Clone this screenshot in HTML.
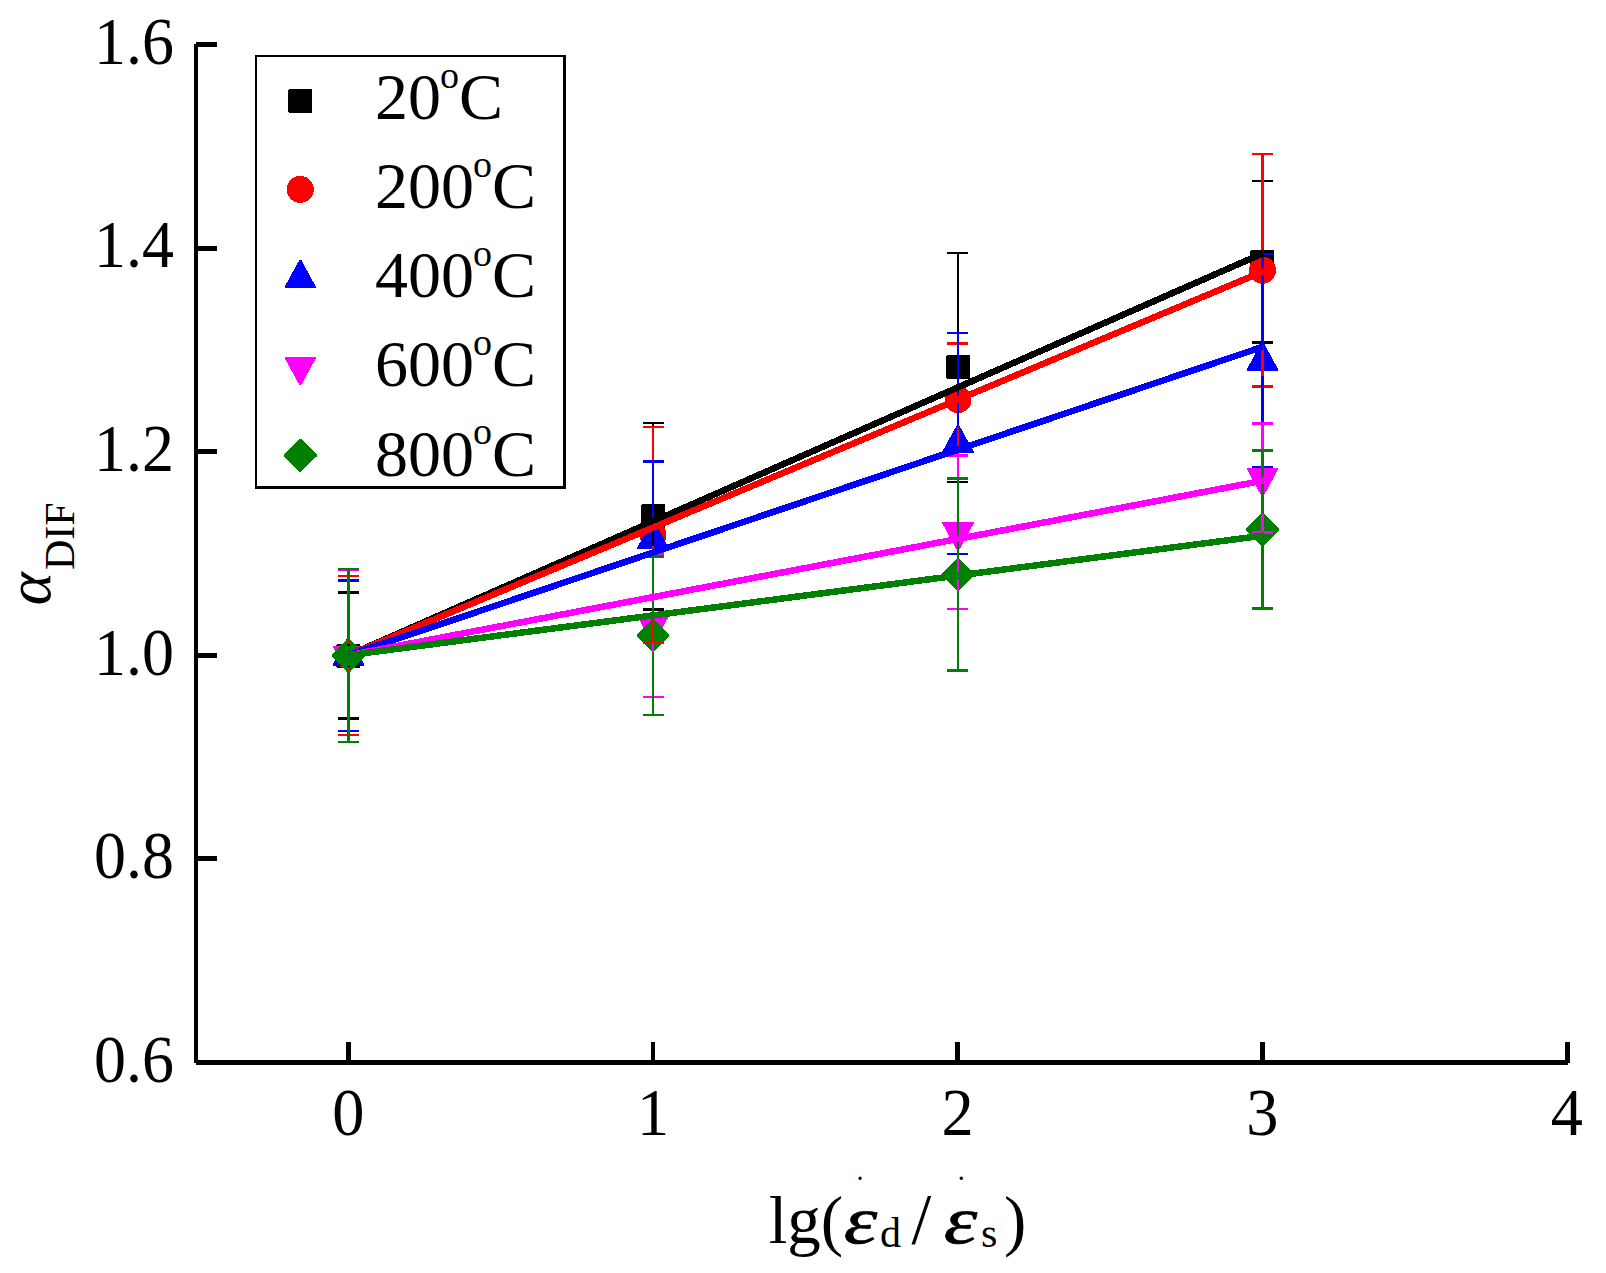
<!DOCTYPE html>
<html lang="en"><head><meta charset="utf-8"><title>DIF vs strain rate</title>
<style>html,body{margin:0;padding:0;background:#fff;overflow:hidden}svg{display:block}text{font-family:"Liberation Serif","DejaVu Serif",serif;fill:#000}.t{font-size:67px}.l{font-size:66px}.s{font-size:42px}.sup{font-size:38px}</style></head><body>
<svg width="1606" height="1273" viewBox="0 0 1606 1273">
<rect width="1606" height="1273" fill="#ffffff"/>
<g shape-rendering="crispEdges">
<g id="symbols">
<polygon points="337,644 359,644 360,645 360,667 359,668 337,668 336,667 336,645" fill="#000000"/>
<polygon points="642,504 664,504 665,505 665,527 664,528 642,528 641,527 641,505" fill="#000000"/>
<polygon points="947,355 969,355 970,356 970,378 969,379 947,379 946,378 946,356" fill="#000000"/>
<polygon points="1251,250 1273,250 1274,251 1274,273 1273,274 1251,274 1250,273 1250,251" fill="#000000"/>
<circle cx="348.5" cy="655.7" r="13.5" fill="#ff0000"/>
<circle cx="653" cy="534.7" r="13.5" fill="#ff0000"/>
<circle cx="958" cy="399.7" r="13.5" fill="#ff0000"/>
<circle cx="1262.5" cy="270.25" r="13.5" fill="#ff0000"/>
<polygon points="347.5,637.7 349.5,637.7 364.3,664.7 364.3,665.9 332.7,665.9 332.7,664.7" fill="#0000ff"/>
<polygon points="652,520.7 654,520.7 668.8,547.7 668.8,548.9 637.2,548.9 637.2,547.7" fill="#0000ff"/>
<polygon points="957,424.8 959,424.8 973.8,451.8 973.8,453 942.2,453 942.2,451.8" fill="#0000ff"/>
<polygon points="1261.5,342.5 1263.5,342.5 1278.3,369.5 1278.3,370.7 1246.7,370.7 1246.7,369.5" fill="#0000ff"/>
<polygon points="332.7,645.5 364.3,645.5 364.3,646.7 349.5,673.7 347.5,673.7 332.7,646.7" fill="#ff00ff"/>
<polygon points="637.2,615 668.8,615 668.8,616.2 654,643.2 652,643.2 637.2,616.2" fill="#ff00ff"/>
<polygon points="942.2,522.05 973.8,522.05 973.8,523.25 959,550.25 957,550.25 942.2,523.25" fill="#ff00ff"/>
<polygon points="1246.7,467.8 1278.3,467.8 1278.3,469 1263.5,496 1261.5,496 1246.7,469" fill="#ff00ff"/>
<polygon points="347.5,639.5 349.5,639.5 364.7,654.7 364.7,656.7 349.5,671.9 347.5,671.9 332.3,656.7 332.3,654.7" fill="#008000"/>
<polygon points="652,619.55 654,619.55 669.2,634.75 669.2,636.75 654,651.95 652,651.95 636.8,636.75 636.8,634.75" fill="#008000"/>
<polygon points="957,558.3 959,558.3 974.2,573.5 974.2,575.5 959,590.7 957,590.7 941.8,575.5 941.8,573.5" fill="#008000"/>
<polygon points="1261.5,513.3 1263.5,513.3 1278.7,528.5 1278.7,530.5 1263.5,545.7 1261.5,545.7 1246.3,530.5 1246.3,528.5" fill="#008000"/>
</g>
<g id="errorbars">
<g fill="#000000"><rect x="347" y="592.5" width="3" height="53.2"/><rect x="347" y="665.7" width="3" height="52.8"/><rect x="338" y="591.25" width="21" height="2.5"/><rect x="338" y="717.25" width="21" height="2.5"/><rect x="652" y="423" width="2" height="83"/><rect x="652" y="526" width="2" height="83.5"/><rect x="643" y="421.75" width="21" height="2.5"/><rect x="643" y="608.25" width="21" height="2.5"/><rect x="957" y="253" width="2" height="104"/><rect x="957" y="377" width="2" height="105"/><rect x="947" y="251.75" width="21" height="2.5"/><rect x="947" y="480.75" width="21" height="2.5"/><rect x="1261" y="181" width="3" height="71"/><rect x="1261" y="272" width="3" height="70.5"/><rect x="1252" y="179.75" width="21" height="2.5"/><rect x="1252" y="341.25" width="21" height="2.5"/></g>
<g fill="#ff0000"><rect x="347" y="576" width="3" height="68"/><rect x="347" y="667.4" width="3" height="67.6"/><rect x="338" y="574.75" width="21" height="2.5"/><rect x="338" y="733.75" width="21" height="2.5"/><rect x="652" y="427" width="2" height="96"/><rect x="652" y="546.4" width="2" height="96.1"/><rect x="643" y="425.75" width="21" height="2.5"/><rect x="643" y="641.25" width="21" height="2.5"/><rect x="957" y="343.5" width="2" height="44.5"/><rect x="957" y="411.4" width="2" height="44.5"/><rect x="947" y="342.25" width="21" height="2.5"/><rect x="947" y="454.65" width="21" height="2.5"/><rect x="1261" y="154" width="3" height="104.55"/><rect x="1261" y="281.95" width="3" height="104.55"/><rect x="1252" y="152.75" width="21" height="2.5"/><rect x="1252" y="385.25" width="21" height="2.5"/></g>
<g fill="#0000ff"><rect x="347" y="580.5" width="3" height="59.35"/><rect x="347" y="671.55" width="3" height="59.45"/><rect x="338" y="579.25" width="21" height="2.5"/><rect x="338" y="729.75" width="21" height="2.5"/><rect x="652" y="461.5" width="2" height="61.35"/><rect x="652" y="554.55" width="2" height="61.45"/><rect x="643" y="460.25" width="21" height="2.5"/><rect x="643" y="614.75" width="21" height="2.5"/><rect x="957" y="333" width="2" height="93.95"/><rect x="957" y="458.65" width="2" height="95.35"/><rect x="947" y="331.75" width="21" height="2.5"/><rect x="947" y="552.75" width="21" height="2.5"/><rect x="1261" y="254" width="3" height="90.65"/><rect x="1261" y="376.35" width="3" height="90.65"/><rect x="1252" y="252.75" width="21" height="2.5"/><rect x="1252" y="465.75" width="21" height="2.5"/></g>
<g fill="#ff00ff"><rect x="347" y="570.2" width="3" height="69.65"/><rect x="347" y="673.2" width="3" height="68.8"/><rect x="338" y="568.95" width="21" height="2.5"/><rect x="338" y="740.75" width="21" height="2.5"/><rect x="652" y="553.5" width="2" height="55.85"/><rect x="652" y="642.7" width="2" height="54.3"/><rect x="643" y="552.25" width="21" height="2.5"/><rect x="643" y="695.75" width="21" height="2.5"/><rect x="957" y="455.5" width="2" height="60.9"/><rect x="957" y="549.75" width="2" height="59.25"/><rect x="947" y="454.25" width="21" height="2.5"/><rect x="947" y="607.75" width="21" height="2.5"/><rect x="1261" y="423.5" width="3" height="38.65"/><rect x="1261" y="495.5" width="3" height="37"/><rect x="1252" y="422.25" width="21" height="2.5"/><rect x="1252" y="531.25" width="21" height="2.5"/></g>
<g fill="#008000"><rect x="347" y="569" width="3" height="70.7"/><rect x="347" y="671.7" width="3" height="70.3"/><rect x="338" y="567.75" width="21" height="2.5"/><rect x="338" y="740.75" width="21" height="2.5"/><rect x="652" y="556.5" width="2" height="63.25"/><rect x="652" y="651.75" width="2" height="63.25"/><rect x="643" y="555.25" width="21" height="2.5"/><rect x="643" y="713.75" width="21" height="2.5"/><rect x="957" y="478.5" width="2" height="80"/><rect x="957" y="590.5" width="2" height="80"/><rect x="947" y="477.25" width="21" height="2.5"/><rect x="947" y="669.25" width="21" height="2.5"/><rect x="1261" y="450.5" width="3" height="63"/><rect x="1261" y="545.5" width="3" height="63"/><rect x="1252" y="449.25" width="21" height="2.5"/><rect x="1252" y="607.25" width="21" height="2.5"/></g>
</g>
<clipPath id="lc"><rect x="340" y="200" width="923.6" height="480"/></clipPath>
<g id="fits" stroke-width="6.5" fill="none" clip-path="url(#lc)">
<line x1="348.7" y1="655.2" x2="1268.5" y2="250.85" stroke="#000000"/>
<line x1="348.7" y1="655.2" x2="1268.5" y2="269.29" stroke="#ff0000"/>
<line x1="348.7" y1="655.2" x2="1268.5" y2="344.87" stroke="#0000ff"/>
<line x1="348.7" y1="655.2" x2="1268.5" y2="479.63" stroke="#ff00ff"/>
<line x1="348.7" y1="655.2" x2="1268.5" y2="534.94" stroke="#008000"/>
</g>
<g id="axes" fill="#000">
<rect x="194" y="44" width="4" height="1019"/>
<rect x="196" y="1060" width="1372" height="5"/>
<rect x="196" y="42" width="21" height="5"/>
<rect x="196" y="246" width="21" height="5"/>
<rect x="196" y="449" width="21" height="5"/>
<rect x="196" y="653" width="21" height="5"/>
<rect x="196" y="856" width="21" height="5"/>
<rect x="196" y="1060" width="21" height="5"/>
<rect x="346" y="1042" width="5" height="19"/>
<rect x="651" y="1042" width="4" height="19"/>
<rect x="955" y="1042" width="5" height="19"/>
<rect x="1260" y="1042" width="5" height="19"/>
<rect x="1565" y="1042" width="5" height="21"/>
</g>
<g fill="#000"><rect x="255" y="55" width="2" height="434"/><rect x="255" y="55" width="311" height="2"/><rect x="563" y="55" width="3" height="434"/><rect x="255" y="486" width="311" height="3"/></g>
<polygon points="289,89 311,89 312,90 312,112 311,113 289,113 288,112 288,90" fill="#000000"/>
<circle cx="300.3" cy="189.4" r="13.5" fill="#ff0000"/>
<polygon points="299.3,260.1 301.3,260.1 316.1,287.1 316.1,288.3 284.5,288.3 284.5,287.1" fill="#0000ff"/>
<polygon points="284.5,356.6 316.1,356.6 316.1,357.8 301.3,384.8 299.3,384.8 284.5,357.8" fill="#ff00ff"/>
<polygon points="299.3,439.3 301.3,439.3 316.5,454.5 316.5,456.5 301.3,471.7 299.3,471.7 284.1,456.5 284.1,454.5" fill="#008000"/>
</g>
<g id="ticklabels" class="t">
<text transform="translate(174 63.6) scale(0.955 1)" text-anchor="end">1.6</text>
<text transform="translate(174 266.8) scale(0.955 1)" text-anchor="end">1.4</text>
<text transform="translate(174 470.8) scale(0.955 1)" text-anchor="end">1.2</text>
<text transform="translate(174 674.6) scale(0.955 1)" text-anchor="end">1.0</text>
<text transform="translate(174 878.3) scale(0.955 1)" text-anchor="end">0.8</text>
<text transform="translate(174 1081.9) scale(0.955 1)" text-anchor="end">0.6</text>
<text transform="translate(348.4 1135.2) scale(0.96 1)" text-anchor="middle">0</text>
<text transform="translate(653 1135.2) scale(0.96 1)" text-anchor="middle">1</text>
<text transform="translate(957.6 1135.2) scale(0.96 1)" text-anchor="middle">2</text>
<text transform="translate(1262.2 1135.2) scale(0.96 1)" text-anchor="middle">3</text>
<text transform="translate(1566.8 1135.2) scale(0.96 1)" text-anchor="middle">4</text>
</g>
<g id="legendtext">
<text class="l" x="375" y="119.3">20<tspan class="sup" dx="-1" dy="-31.5">o</tspan><tspan dy="31.5">C</tspan></text>
<text class="l" x="375" y="208.35">200<tspan class="sup" dx="-1" dy="-31.5">o</tspan><tspan dy="31.5">C</tspan></text>
<text class="l" x="375" y="297.4">400<tspan class="sup" dx="-1" dy="-31.5">o</tspan><tspan dy="31.5">C</tspan></text>
<text class="l" x="375" y="386.45">600<tspan class="sup" dx="-1" dy="-31.5">o</tspan><tspan dy="31.5">C</tspan></text>
<text class="l" x="375" y="475.5">800<tspan class="sup" dx="-1" dy="-31.5">o</tspan><tspan dy="31.5">C</tspan></text>
</g>
<g id="xtitle">
<text class="t" x="768.7" y="1242.6">lg(</text>
<text transform="translate(843.8 1243.2) scale(1.27 1)" font-size="67" font-style="italic" stroke="#000" stroke-width="0.6">ε</text>
<text class="s" x="880" y="1246.5">d</text>
<text x="911.5" y="1242.8" font-size="71">/</text>
<text transform="translate(943.8 1243.2) scale(1.27 1)" font-size="67" font-style="italic" stroke="#000" stroke-width="0.6">ε</text>
<text class="s" x="981" y="1246.5">s</text>
<text class="t" x="1004" y="1242.6">)</text>
<text x="857.6" y="1180" font-size="20" font-weight="bold">.</text>
<text x="958.8" y="1180" font-size="20" font-weight="bold">.</text>
</g>
<g id="ytitle">
<text font-size="63" font-style="italic" transform="translate(50.2 605.3) rotate(-90)">α</text>
<text class="s" transform="translate(74.2 570) rotate(-90)">DIF</text>
</g>
</svg>
</body></html>
